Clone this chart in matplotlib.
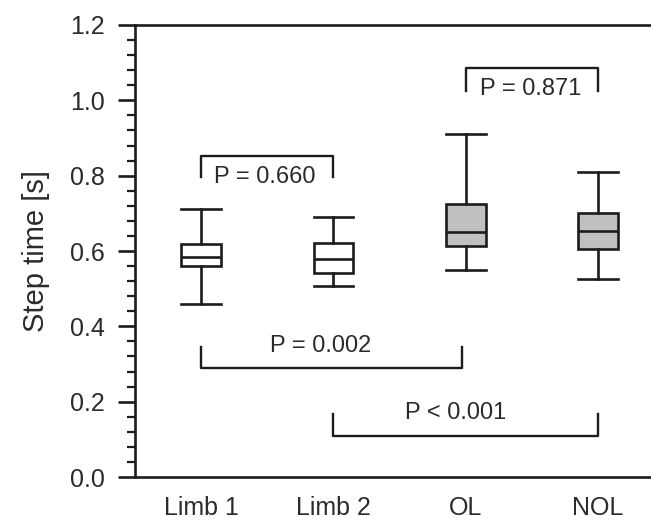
import matplotlib
matplotlib.use("Agg")
import matplotlib.pyplot as plt
from matplotlib.ticker import MultipleLocator

plt.rcParams['font.family'] = ['Liberation Sans', 'DejaVu Sans']

# 数据
groups = ["Limb 1", "Limb 2", "OL", "NOL"]
whis_lo = [0.459, 0.508, 0.550, 0.526]
q1 = [0.560, 0.542, 0.613, 0.604]
median = [0.585, 0.580, 0.650, 0.654]
q3 = [0.619, 0.622, 0.724, 0.700]
whis_hi = [0.711, 0.689, 0.911, 0.810]
fills = ["white", "white", "#c0c0c0", "#c0c0c0"]

# 显著性标注: (起点组, 终点组, 横线高度, 竖线末端, 文本, 文本x, 文本y)
sig_from = [1, 3, 1, 2]
sig_to = [2, 4, 2.97, 4]
sig_bar = [0.853, 1.085, 0.290, 0.109]
sig_end = [0.796, 1.025, 0.346, 0.166]
sig_text = ["P = 0.660", "P = 0.871", "P = 0.002", "P < 0.001"]
sig_tx = [1.48, 3.49, 1.90, 2.92]
sig_ty = [0.797, 1.030, 0.349, 0.169]

ink = "#1c1c1c"
txt = "#2b2b2b"
lw = 1.9

fig = plt.figure(figsize=(6.51, 5.25), dpi=100)
ax = fig.add_axes([0.2074, 0.0914, 0.7926, 0.861])

stats = []
for i, g in enumerate(groups):
    stats.append(dict(label=g, whislo=whis_lo[i], q1=q1[i], med=median[i],
                      q3=q3[i], whishi=whis_hi[i], fliers=[]))

pos = list(range(1, len(groups) + 1))
bp = ax.bxp(stats, positions=pos, widths=0.30, patch_artist=True,
            showfliers=False,
            boxprops=dict(edgecolor=ink, linewidth=lw),
            medianprops=dict(color=ink, linewidth=lw),
            whiskerprops=dict(color=ink, linewidth=lw),
            capprops=dict(color=ink, linewidth=lw),
            capwidths=0.30)
for patch, c in zip(bp['boxes'], fills):
    patch.set_facecolor(c)

for a, b, yb, ye, t, tx, ty in zip(sig_from, sig_to, sig_bar, sig_end,
                                   sig_text, sig_tx, sig_ty):
    ax.plot([a, a, b, b], [ye, yb, yb, ye], color=ink, lw=1.7)
    ax.text(tx, ty, t, ha="center", va="center", fontsize=17, color=txt)

ax.set_xlim(0.5, 4.40)
ax.set_ylim(0, 1.2)
ax.yaxis.set_major_locator(MultipleLocator(0.2))
ax.yaxis.set_minor_locator(MultipleLocator(0.04))
ax.set_yticklabels([f"{v:.1f}" for v in ax.get_yticks()])
ax.set_xticks(pos)
ax.set_xticklabels(groups)

ax.spines['right'].set_visible(False)
for s in ['left', 'bottom', 'top']:
    ax.spines[s].set_linewidth(lw)
    ax.spines[s].set_color(ink)

ax.tick_params(axis='y', which='major', length=12, width=lw, color=ink,
               labelsize=18, labelcolor=txt, pad=10)
ax.tick_params(axis='y', which='minor', length=6, width=1.6, color=ink)
ax.tick_params(axis='x', length=0, labelsize=18, labelcolor=txt, pad=14)
ax.set_ylabel("Step time [s]", fontsize=21, color=txt, labelpad=14)

fig.savefig("out.png", dpi=100)
